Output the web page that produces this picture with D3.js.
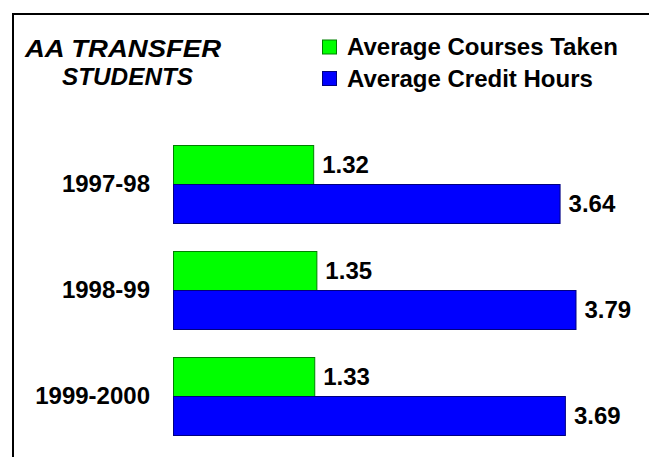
<!DOCTYPE html>
<html>
<head>
<meta charset="utf-8">
<script src="https://cdn.jsdelivr.net/npm/d3@7"></script>
<style>
  body { margin: 0; background: #fff; }
  text { font-family: "Liberation Sans", Arial, sans-serif; font-weight: bold; fill: #000; }
</style>
</head>
<body>
<svg id="chart"></svg>
<script>
const W = 649;
const H = 457;

const years = ["1997-98", "1998-99", "1999-2000"];
const seriesNames = ["Average Courses Taken", "Average Credit Hours"];
const coursesTaken = [1.32, 1.35, 1.33];
const creditHours = [3.64, 3.79, 3.69];
const titleLines = ["AA TRANSFER", "STUDENTS"];

const fills = ["#00ff00", "#0000ff"];
const strokes = ["#008000", "#000080"];

const rows = years.map((y, i) => ({
    year: y,
    values: [coursesTaken[i], creditHours[i]]
}));

const svg = d3.select("#chart")
    .attr("width", W)
    .attr("height", H);

// frame (only top and left edges show)
svg.append("rect")
    .attr("x", 13)
    .attr("y", 14)
    .attr("width", 800)
    .attr("height", 600)
    .attr("fill", "none")
    .attr("stroke", "#000")
    .attr("stroke-width", 2);

const xScale = d3.scaleLinear()
    .domain([0, 4])
    .range([173, 173 + 4 * 106.2]);

const yScale = d3.scaleBand()
    .domain(years)
    .range([131, 449])
    .paddingInner(28 / 106)
    .paddingOuter(14 / 106);

const ySub = d3.scaleBand()
    .domain([0, 1])
    .range([0, yScale.bandwidth()]);

// title
const titleX = [25, 62];
const titleLen = [196, 131];

svg.append("g")
    .selectAll("text")
    .data(titleLines)
    .enter()
    .append("text")
    .attr("x", (d, i) => titleX[i])
    .attr("y", (d, i) => 56.5 + i * 28.5)
    .attr("textLength", (d, i) => titleLen[i])
    .attr("lengthAdjust", "spacingAndGlyphs")
    .style("font-style", "italic")
    .style("font-size", "24.5px")
    .text(d => d);

// legend
const legend = svg.append("g")
    .selectAll("g")
    .data(seriesNames)
    .enter()
    .append("g")
    .attr("transform", (d, i) => `translate(322,${39.5 + i * 31.5})`);

legend.append("rect")
    .attr("x", 0.5)
    .attr("y", 0.5)
    .attr("width", 14)
    .attr("height", 14)
    .attr("fill", (d, i) => fills[i])
    .attr("stroke", (d, i) => strokes[i]);

legend.append("text")
    .attr("x", 25)
    .attr("y", 15.5)
    .style("font-size", "24px")
    .text(d => d);

// category labels
svg.append("g")
    .selectAll("text")
    .data(years)
    .enter()
    .append("text")
    .attr("x", 150)
    .attr("y", d => yScale(d) + yScale.bandwidth() / 2)
    .attr("dy", "0.35em")
    .attr("text-anchor", "end")
    .style("font-size", "24px")
    .text(d => d);

// bars
const groups = svg.append("g")
    .selectAll("g")
    .data(rows)
    .enter()
    .append("g")
    .attr("transform", d => `translate(0,${yScale(d.year)})`);

groups.selectAll("rect")
    .data(d => d.values)
    .enter()
    .append("rect")
    .attr("x", xScale(0) + 0.5)
    .attr("y", (d, i) => ySub(i) + 0.5)
    .attr("width", d => xScale(d) - xScale(0))
    .attr("height", ySub.bandwidth())
    .attr("fill", (d, i) => fills[i])
    .attr("stroke", (d, i) => strokes[i])
    .attr("stroke-width", 1);

groups.selectAll("text")
    .data(d => d.values)
    .enter()
    .append("text")
    .attr("x", d => xScale(d) + 9)
    .attr("y", (d, i) => ySub(i) + ySub.bandwidth() / 2)
    .attr("dy", "0.35em")
    .style("font-size", "24px")
    .text(d => d.toFixed(2));
</script>
</body>
</html>
